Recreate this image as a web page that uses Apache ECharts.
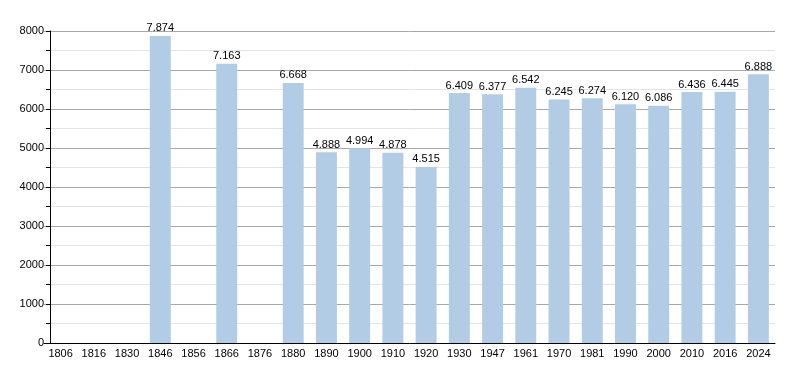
<!DOCTYPE html>
<html><head><meta charset="utf-8">
<script src="https://cdn.jsdelivr.net/npm/echarts@6/dist/echarts.min.js"></script>
<style>html,body{margin:0;padding:0;background:#fff}#c{width:800px;height:373px}</style>
</head><body><div id="c"></div>
<script>
const categories = ['1806','1816','1830','1846','1856','1866','1876','1880','1890','1900','1910','1920','1930','1947','1961','1970','1981','1990','2000','2010','2016','2024'];
const population = [null,null,null,7874,null,7163,null,6668,4888,4994,4878,4515,6409,6377,6542,6245,6274,6120,6086,6436,6445,6888];
const yTicks = [0,1000,2000,3000,4000,5000,6000,7000,8000];

const chart = echarts.init(document.getElementById('c'), null, {renderer:'canvas'});
const font = 'Liberation Sans, Arial, sans-serif';
chart.setOption({
  animation:false,
  grid:{left:44, right:25, top:31, bottom:30},
  xAxis:{
    type:'category', data:categories,
    axisLine:{lineStyle:{color:'#000',width:1}},
    axisTick:{show:false},
    axisLabel:{color:'#000', fontSize:11, fontFamily:font, margin:5, interval:0}
  },
  yAxis:{
    type:'value', min:yTicks[0], max:yTicks[yTicks.length-1], interval:1000,
    offset:-6,
    axisLine:{show:true, lineStyle:{color:'#000',width:1}},
    axisTick:{show:true, length:4, lineStyle:{color:'#000'}},
    minorTick:{show:true, splitNumber:2, length:4, lineStyle:{color:'#000'}},
    axisLabel:{color:'#000', fontSize:11, fontFamily:font, margin:6, formatter:v => String(v)},
    splitLine:{lineStyle:{color:'#a8a8a8',width:1}},
    minorSplitLine:{show:true, lineStyle:{color:'#e4e4e4',width:1}}
  },
  series:[{
    type:'bar', data:population, barWidth:'63%',
    itemStyle:{color:'#b1cce4'},
    label:{show:true, position:'top', distance:2, color:'#000', fontSize:11, fontFamily:font,
      formatter:p => p.value==null ? '' : String(p.value).replace(/\B(?=(\d{3})+(?!\d))/g,'.')}
  }]
});
</script></body></html>
